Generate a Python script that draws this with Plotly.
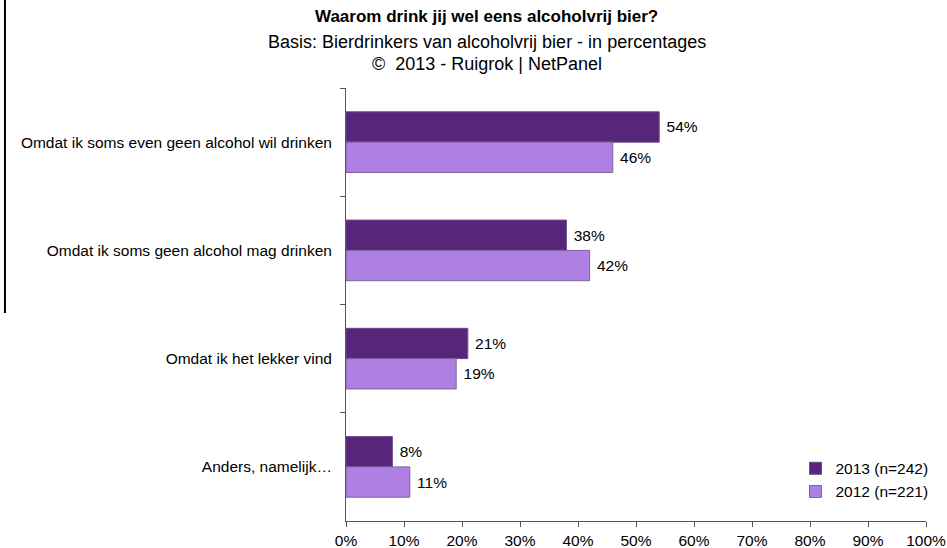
import plotly.graph_objects as go

categories = [
    "Omdat ik soms even geen alcohol wil drinken",
    "Omdat ik soms geen alcohol mag drinken",
    "Omdat ik het lekker vind",
    "Anders, namelijk…",
]
values_2013 = [54, 38, 21, 8]
values_2012 = [46, 42, 19, 11]
series_names = ["2013 (n=242)", "2012 (n=221)"]
x_ticks = list(range(0, 101, 10))

FONT = "Liberation Sans, Arial, sans-serif"
FS = 15.5

fig = go.Figure()
fig.add_trace(go.Bar(
    y=categories, x=values_2013, orientation="h", name=series_names[0],
    marker=dict(color="#57267A", line=dict(color="#6E4A8E", width=1)),
    text=[f" {v}%" for v in values_2013], textposition="outside",
    textfont=dict(size=FS, color="#000000", family=FONT),
    cliponaxis=False, legendgroup="a",
))
fig.add_trace(go.Bar(
    y=categories, x=values_2012, orientation="h", name=series_names[1],
    marker=dict(color="#B07FE3", line=dict(color="#7E6598", width=1)),
    text=[f" {v}%" for v in values_2012], textposition="outside",
    textfont=dict(size=FS, color="#000000", family=FONT),
    cliponaxis=False, legendgroup="b",
))

fig.update_layout(
    width=947, height=548,
    margin=dict(l=346, r=21, t=88, b=27, autoexpand=False),
    paper_bgcolor="white", plot_bgcolor="white",
    barmode="group", bargap=0.44, bargroupgap=0,
    font=dict(family=FONT, size=FS, color="#000000"),
    showlegend=True,
    legend=dict(x=0.775, y=0.16, xanchor="left", yanchor="top",
                traceorder="normal", tracegroupgap=7,
                font=dict(size=FS, family=FONT), bgcolor="rgba(0,0,0,0)"),
    xaxis=dict(range=[0, 100], tickvals=x_ticks, ticktext=[f"{t}%" for t in x_ticks],
               showgrid=False, zeroline=False, showline=True, linecolor="#555555",
               ticks="outside", ticklen=5, tickcolor="#555555", automargin=False,
               tickfont=dict(size=FS, family=FONT)),
    yaxis=dict(autorange="reversed", showgrid=False, zeroline=False, showline=True,
               linecolor="#555555", ticks="outside", ticklen=5, tickcolor="#555555",
               tickson="boundaries", tickfont=dict(size=FS, family=FONT),
               ticklabelstandoff=10, automargin=False),
    annotations=[
        dict(text="<b>Waarom drink jij wel eens alcoholvrij bier?</b>", x=0.243, y=1.164,
             xref="paper", yref="paper", xanchor="center", yanchor="middle",
             showarrow=False, font=dict(size=17, family=FONT)),
        dict(text="Basis: Bierdrinkers van alcoholvrij bier - in percentages", x=0.243, y=1.106,
             xref="paper", yref="paper", xanchor="center", yanchor="middle",
             showarrow=False, font=dict(size=18, family=FONT)),
        dict(text="©  2013 - Ruigrok | NetPanel", x=0.243, y=1.056,
             xref="paper", yref="paper", xanchor="center", yanchor="middle",
             showarrow=False, font=dict(size=18, family=FONT)),
    ],
    shapes=[dict(type="line", xref="paper", yref="paper", x0=-0.588, x1=-0.588,
                 y0=1.203, y1=0.4804, line=dict(color="#000000", width=2))],
)

fig.write_html("out.html", config={"displayModeBar": False},
               post_script="document.body.style.margin='0';")
